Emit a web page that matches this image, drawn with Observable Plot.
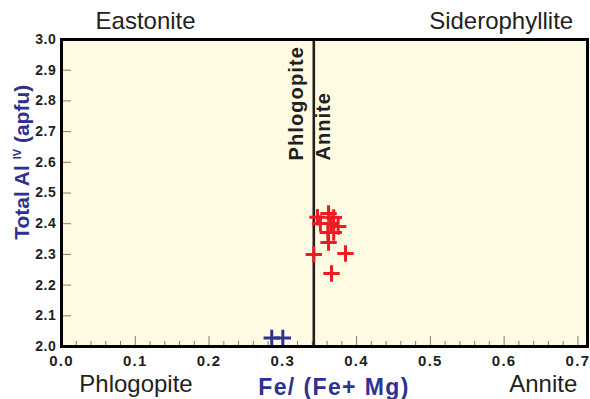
<!DOCTYPE html>
<html>
<head>
<meta charset="utf-8">
<script src="https://cdn.jsdelivr.net/npm/d3@7"></script>
<script src="https://cdn.jsdelivr.net/npm/@observablehq/plot@0.6"></script>
<style>
  body { margin: 0; background: #ffffff; }
  #chart svg { display: block; }
  g[aria-label="x-axis tick label"] text { letter-spacing: 1.3px; }
  g[aria-label="y-axis tick label"] text { letter-spacing: 0.6px; }
</style>
</head>
<body>
<div id="chart"></div>
<script>
// ---- tick labels ----
const xTicks = [0.0, 0.1, 0.2, 0.3, 0.4, 0.5, 0.6, 0.7];
const xMinorTicks = [0.02, 0.04, 0.06, 0.08, 0.12, 0.14, 0.16, 0.18, 0.22, 0.24, 0.26, 0.28,
                     0.32, 0.34, 0.36, 0.38, 0.42, 0.44, 0.46, 0.48, 0.52, 0.54, 0.56, 0.58,
                     0.62, 0.64, 0.66, 0.68, 0.72];
const yTicks = [2.0, 2.1, 2.2, 2.3, 2.4, 2.5, 2.6, 2.7, 2.8, 2.9, 3.0];

// ---- series: red crosses ----
const redFe = [0.347, 0.362, 0.369, 0.351, 0.365, 0.375, 0.361, 0.369, 0.362, 0.342, 0.385, 0.366];
const redAl = [2.421, 2.433, 2.420, 2.401, 2.401, 2.391, 2.371, 2.371, 2.339, 2.300, 2.303, 2.238];

// ---- series: blue crosses ----
const blueFe = [0.285, 0.300];
const blueAl = [2.028, 2.028];

// ---- Phlogopite / Annite divide ----
const dividerFe = [0.342];

// ---- end-member labels ----
const topNames = ["Eastonite", "Siderophyllite"];
const topNameFe = [0.114, 0.596];
const bottomNames = ["Phlogopite", "Annite"];
const bottomNameFe = [0.101, 0.653];

const red = redFe.map((x, i) => ({x, y: redAl[i]}));
const blue = blueFe.map((x, i) => ({x, y: blueAl[i]}));
const topLab = topNames.map((t, i) => ({t, x: topNameFe[i]}));
const botLab = bottomNames.map((t, i) => ({t, x: bottomNameFe[i]}));

const plusSym = {
  draw(ctx, size) {
    const r = Math.sqrt(size / Math.PI);
    ctx.moveTo(-r, 0); ctx.lineTo(r, 0);
    ctx.moveTo(0, -r); ctx.lineTo(0, r);
  }
};

const W = 590, H = 399, mL = 61, mR = 3, mT = 39, mB = 53;
const innerW = W - mL - mR, innerH = H - mT - mB;
const ink = "#231f20", navy = "#2e3192", redC = "#ed1c24";
const fmt = d3.format(".1f");

const svg = Plot.plot({
  width: W, height: H,
  marginLeft: mL, marginRight: mR, marginTop: mT, marginBottom: mB,
  style: {fontFamily: "'Liberation Sans', Arial, Helvetica, sans-serif", background: "#ffffff", overflow: "visible"},
  x: {domain: [0, 0.713]},
  y: {domain: [2, 3]},
  marks: [
    Plot.frame({fill: "#fffbe3", stroke: null}),
    Plot.tickX(xMinorTicks, {x: d => d, stroke: "#7a7a7a", strokeWidth: 1, insetTop: innerH - 5}),
    Plot.tickX(xTicks, {x: d => d, stroke: "#7a7a7a", strokeWidth: 1, insetTop: innerH - 10}),
    Plot.tickY(yTicks, {y: d => d, stroke: "#7a7a7a", strokeWidth: 1, insetRight: innerW - 10}),
    Plot.ruleX(dividerFe, {x: d => d, stroke: ink, strokeWidth: 2.6}),
    Plot.text(dividerFe, {x: d => d, y: 2.606, text: () => "Phlogopite", rotate: -90, dx: -10.5,
      textAnchor: "start", lineAnchor: "bottom", fontSize: 20, fontWeight: "bold", fill: ink}),
    Plot.text(dividerFe, {x: d => d, y: 2.606, text: () => "Annite", rotate: -90, dx: 16.3,
      textAnchor: "start", lineAnchor: "bottom", fontSize: 20, fontWeight: "bold", fill: ink}),
    Plot.dot(blue, {x: "x", y: "y", symbol: plusSym, r: 8.2, stroke: navy, strokeWidth: 3, fill: "none"}),
    Plot.dot(red, {x: "x", y: "y", symbol: plusSym, r: 8.2, stroke: redC, strokeWidth: 3, fill: "none"}),
    Plot.frame({stroke: "#000000", strokeWidth: 3, fill: null}),
    Plot.axisX({ticks: xTicks, tickSize: 0, tickPadding: 9, tickFormat: fmt, label: null,
      fontSize: 15, fontWeight: "bold", fill: ink}),
    Plot.axisY({ticks: yTicks, tickSize: 0, tickPadding: 5, tickFormat: fmt, label: null,
      fontSize: 14, fontWeight: "bold", fill: ink}),
    Plot.text(topLab, {x: "x", text: "t", frameAnchor: "top", lineAnchor: "bottom", dy: -11,
      fontSize: 24, fill: ink}),
    Plot.text(botLab, {x: "x", text: "t", frameAnchor: "bottom", lineAnchor: "bottom", dy: 45,
      fontSize: 24, fill: ink}),
    Plot.text(["Fe/ (Fe+ Mg)"], {frameAnchor: "bottom", lineAnchor: "bottom", dx: 9.5, dy: 48,
      fontSize: 23, fontWeight: "bold", fill: navy}),
    Plot.text(["Total Al IV (apfu)"], {frameAnchor: "left", y: 2.6, dx: -33, rotate: -90,
      textAnchor: "middle", lineAnchor: "bottom", fontSize: 21, fontWeight: "bold", fill: navy})
  ]
});

// text styling by content
const spacing = {"Fe/ (Fe+ Mg)": "1.4px", "Phlogopite": "1.1px", "Annite": "1px"};
d3.select(svg).selectAll("text").each(function () {
  const s = this.textContent;
  const t = d3.select(this);
  const g = this.closest("g");
  const bold = t.attr("font-weight") === "bold" || (g && g.getAttribute("font-weight") === "bold");
  if (s === "Total Al IV (apfu)") {
    t.text(null);
    t.append("tspan").text("Total Al ");
    t.append("tspan").attr("font-size", 11).attr("dy", -8).text("IV");
    t.append("tspan").attr("dy", 8).text(" (apfu)");
  } else if (spacing[s] && bold) {
    t.style("letter-spacing", spacing[s]);
  }
});

document.getElementById("chart").appendChild(svg);
</script>
</body>
</html>
